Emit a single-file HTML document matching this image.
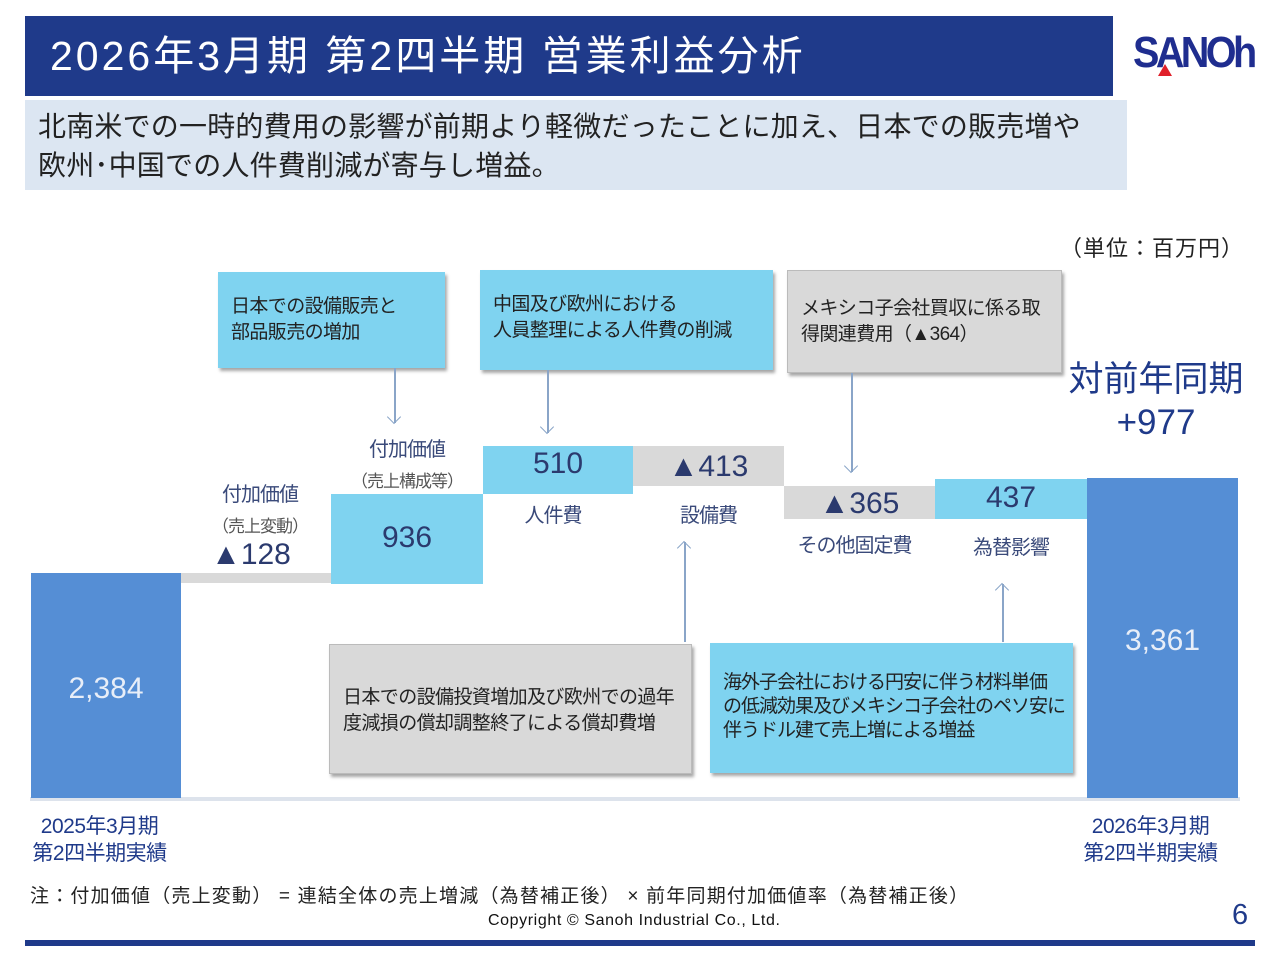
<!DOCTYPE html>
<html><head><meta charset="utf-8"><style>
*{margin:0;padding:0;box-sizing:border-box}
body{width:1280px;height:960px;background:#fff;position:relative;overflow:hidden;font-family:"Liberation Sans","Noto Sans CJK JP",sans-serif}
.a{position:absolute;white-space:nowrap}
.box{position:absolute;box-shadow:2px 3px 3px rgba(0,0,0,.35);font-size:19px;line-height:26px;color:#222;letter-spacing:-0.6px;padding-left:13px}
.lb{background:#7fd3f0}
.gr{background:#d9d9d9;border:1px solid #bbb}
.bar{position:absolute}
.num{position:absolute;text-align:center;color:#2b3a6e;font-size:30px}
.cat{position:absolute;text-align:center;color:#3a4a7a;font-size:20px;letter-spacing:-1px}
.sub{font-size:17px;color:#555}
.ln{position:absolute;width:1.5px;background:#8aa5c8}
.ah{position:absolute;width:10px;height:10px;border-right:1.5px solid #8aa5c8;border-bottom:1.5px solid #8aa5c8}
</style></head><body>
<div class="a" style="left:25px;top:16px;width:1088px;height:80px;background:#1f3a8a"></div>
<div class="a" style="left:50px;top:28px;color:#fff;font-size:41px;line-height:56px;letter-spacing:3px">2026年3月期 第2四半期 営業利益分析</div>
<div class="a" style="left:1133px;top:28px;color:#1f2d8f;font-size:44px;font-weight:bold;letter-spacing:-4px;transform:scaleX(0.9);transform-origin:left">SANOh</div>
<div class="a" style="left:1158px;top:64px;width:0;height:0;border-left:7px solid transparent;border-right:7px solid transparent;border-bottom:12px solid #e0202a"></div>
<div class="a" style="left:25px;top:100px;width:1102px;height:90px;background:#dce6f2"></div>
<div class="a" style="left:38px;top:107px;font-size:28px;line-height:39px;color:#222;letter-spacing:0.2px">北南米での一時的費用の影響が前期より軽微だったことに加え、日本での販売増や<br>欧州･中国での人件費削減が寄与し増益。</div>
<div class="a" style="left:1060px;top:231px;font-size:22px;color:#222;letter-spacing:1px">（単位：百万円）</div>

<div class="box lb" style="left:218px;top:272px;width:227px;height:96px;padding-top:22px">日本での設備販売と<br>部品販売の増加</div>
<div class="box lb" style="left:480px;top:270px;width:293px;height:100px;padding-top:22px">中国及び欧州における<br>人員整理による人件費の削減</div>
<div class="box gr" style="left:787px;top:270px;width:275px;height:103px;padding-top:25px">メキシコ子会社買収に係る取<br>得関連費用（▲364）</div>
<div class="a" style="left:1060px;top:358px;width:192px;text-align:center;color:#1f3a8a;font-size:35px;line-height:43px">対前年同期<br>+977</div>

<div class="ln" style="left:394px;top:368px;height:55px"></div><div class="ah" style="left:389px;top:412px;transform:rotate(45deg)"></div>
<div class="ln" style="left:547px;top:370px;height:63px"></div><div class="ah" style="left:542px;top:422px;transform:rotate(45deg)"></div>
<div class="ln" style="left:851px;top:373px;height:99px"></div><div class="ah" style="left:846px;top:461px;transform:rotate(45deg)"></div>
<div class="ln" style="left:684px;top:542px;height:100px"></div><div class="ah" style="left:679px;top:543px;transform:rotate(-135deg)"></div>
<div class="ln" style="left:1002px;top:584px;height:58px"></div><div class="ah" style="left:997px;top:585px;transform:rotate(-135deg)"></div>

<div class="bar" style="left:30px;top:797px;width:1210px;height:4px;background:#dde3ec"></div>
<div class="bar" style="left:31px;top:573px;width:150px;height:225px;background:#558ed5"></div>
<div class="num" style="left:31px;top:672px;width:150px;color:#e8eef8">2,384</div>
<div class="bar" style="left:181px;top:573px;width:150px;height:10px;background:#d9d9d9"></div>
<div class="bar" style="left:331px;top:494px;width:152px;height:90px;background:#7fd3f0"></div>
<div class="num" style="left:331px;top:521px;width:152px">936</div>
<div class="bar" style="left:483px;top:446px;width:150px;height:48px;background:#7fd3f0"></div>
<div class="num" style="left:483px;top:447px;width:150px">510</div>
<div class="bar" style="left:633px;top:446px;width:151px;height:40px;background:#d9d9d9"></div>
<div class="num" style="left:633px;top:450px;width:151px">▲413</div>
<div class="bar" style="left:784px;top:486px;width:151px;height:33px;background:#d9d9d9"></div>
<div class="num" style="left:784px;top:487px;width:151px">▲365</div>
<div class="bar" style="left:935px;top:479px;width:152px;height:40px;background:#7fd3f0"></div>
<div class="num" style="left:935px;top:481px;width:152px">437</div>
<div class="bar" style="left:1087px;top:478px;width:151px;height:320px;background:#558ed5"></div>
<div class="num" style="left:1087px;top:624px;width:151px;color:#e8eef8">3,361</div>

<div class="cat" style="left:185px;top:478px;width:150px">付加価値</div>
<div class="cat sub" style="left:185px;top:512px;width:150px">（売上変動）</div>
<div class="num" style="left:176px;top:538px;width:150px">▲128</div>
<div class="cat" style="left:331px;top:433px;width:152px">付加価値</div>
<div class="cat sub" style="left:331px;top:467px;width:152px">（売上構成等）</div>
<div class="cat" style="left:478px;top:499px;width:150px">人件費</div>
<div class="cat" style="left:633px;top:499px;width:151px">設備費</div>
<div class="cat" style="left:779px;top:529px;width:151px">その他固定費</div>
<div class="cat" style="left:935px;top:531px;width:152px">為替影響</div>

<div class="box gr" style="left:329px;top:644px;width:363px;height:130px;padding-top:40px">日本での設備投資増加及び欧州での過年<br>度減損の償却調整終了による償却費増</div>
<div class="box lb" style="left:710px;top:643px;width:363px;height:130px;padding-top:28px;line-height:24px;letter-spacing:-1px">海外子会社における円安に伴う材料単価<br>の低減効果及びメキシコ子会社のペソ安に<br>伴うドル建て売上増による増益</div>

<div class="a" style="left:22px;top:813px;width:155px;text-align:center;color:#1f3a8a;font-size:21px;line-height:27px;letter-spacing:-0.5px">2025年3月期<br>第2四半期実績</div>
<div class="a" style="left:1073px;top:813px;width:155px;text-align:center;color:#1f3a8a;font-size:21px;line-height:27px;letter-spacing:-0.5px">2026年3月期<br>第2四半期実績</div>
<div class="a" style="left:30px;top:881px;font-size:19px;color:#222;letter-spacing:1.2px">注：付加価値（売上変動） = 連結全体の売上増減（為替補正後） × 前年同期付加価値率（為替補正後）</div>
<div class="a" style="left:488px;top:912px;font-size:16px;color:#111;letter-spacing:0.6px">Copyright © Sanoh Industrial Co., Ltd.</div>
<div class="a" style="left:1232px;top:899px;font-size:29px;color:#1f3a8a">6</div>
<div class="a" style="left:25px;top:940px;width:1230px;height:6px;background:#1f3a8a"></div>
</body></html>
